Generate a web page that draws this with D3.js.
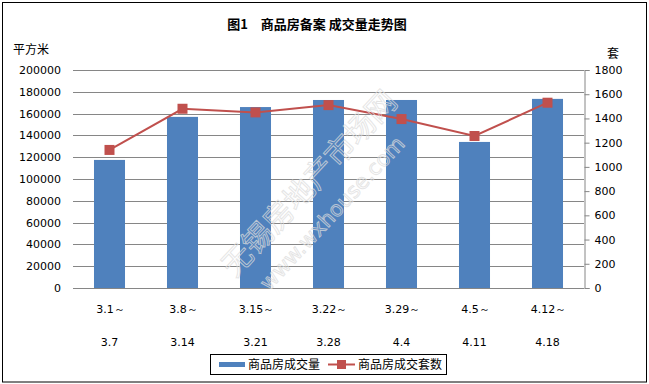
<!DOCTYPE html>
<html>
<head>
<meta charset="utf-8">
<script src="https://cdn.jsdelivr.net/npm/d3@7"></script>
<style>
  html, body { margin: 0; padding: 0; background: #fff; }
  svg { display: block; }
  .num { font-family: "DejaVu Sans", sans-serif; font-size: 11px; fill: #000; }
  .cjk { font-family: "Noto Sans CJK SC", sans-serif; font-size: 12px; fill: #000; }
</style>
</head>
<body>
<div id="chart"></div>
<script>
// 数据
const weeksStart = ['3.1～', '3.8～', '3.15～', '3.22～', '3.29～', '4.5～', '4.12～'];
const weeksEnd = ['3.7', '3.14', '3.21', '3.28', '4.4', '4.11', '4.18'];
const areaValues = [117500, 157000, 166000, 172500, 172500, 134000, 173500];   // 平方米
const unitValues = [1140, 1480, 1450, 1510, 1395, 1255, 1530];                  // 套
const leftTicks = [0, 20000, 40000, 60000, 80000, 100000, 120000, 140000, 160000, 180000, 200000];
const rightTicks = [0, 200, 400, 600, 800, 1000, 1200, 1400, 1600, 1800];

const width = 649, height = 384;
const margin = { left: 73, right: 65, top: 70, bottom: 96 };
const x0 = margin.left, x1 = width - margin.right;
const y0 = height - margin.bottom, y1 = margin.top;

const svg = d3.select('#chart').append('svg')
    .attr('width', width)
    .attr('height', height);

// 外框
svg.append('rect')
    .attr('x', 2.5).attr('y', 2.5)
    .attr('width', width - 5).attr('height', height - 4.5)
    .attr('fill', '#fff')
    .attr('stroke', '#000')
    .attr('stroke-width', 1);

// 比例尺
const x = d3.scaleBand().domain(d3.range(weeksStart.length)).range([x0, x1]).paddingInner(0.575).paddingOuter(0.2875);
const yL = d3.scaleLinear().domain([0, 200000]).range([y0, y1]);
const yR = d3.scaleLinear().domain([0, 1800]).range([y0, y1]);

// 网格线
svg.append('g')
    .selectAll('line')
    .data(leftTicks.slice(1))
    .join('line')
    .attr('x1', x0).attr('x2', x1)
    .attr('y1', d => Math.round(yL(d)) + 0.5)
    .attr('y2', d => Math.round(yL(d)) + 0.5)
    .attr('stroke', '#868686');

// 柱子
svg.append('g')
    .selectAll('rect')
    .data(areaValues)
    .join('rect')
    .attr('x', (d, i) => x(i))
    .attr('width', x.bandwidth())
    .attr('y', d => yL(d))
    .attr('height', d => y0 - yL(d))
    .attr('fill', '#4F81BD');

// 底部轴线
svg.append('line')
    .attr('x1', x0).attr('x2', x1)
    .attr('y1', Math.round(y0) + 0.5).attr('y2', Math.round(y0) + 0.5)
    .attr('stroke', '#868686');

// 左轴标签
const leftAxis = d3.axisLeft(yL).tickValues(leftTicks).tickSize(0).tickPadding(12).tickFormat(d3.format('d'));
const gl = svg.append('g').attr('transform', `translate(${x0},0)`).call(leftAxis);
gl.select('.domain').remove();
gl.selectAll('text').attr('class', 'num').attr('fill', null).attr('font-family', null).attr('font-size', null);

// 右轴
const rightAxis = d3.axisRight(yR).tickValues(rightTicks).tickSize(5).tickPadding(5).tickFormat(d3.format('d'));
const gr = svg.append('g').attr('transform', `translate(${x1 + 0.5},0)`).call(rightAxis);
gr.select('.domain').attr('stroke', '#868686');
gr.selectAll('.tick line').attr('stroke', '#868686');
gr.selectAll('text').attr('class', 'num').attr('fill', null).attr('font-family', null).attr('font-size', null);

// X轴标签
const cx = i => x(i) + x.bandwidth() / 2;
svg.append('g').selectAll('text')
    .data(weeksStart)
    .join('text')
    .attr('class', 'num')
    .attr('x', (d, i) => cx(i) + 1)
    .attr('y', 313)
    .attr('text-anchor', 'middle')
    .text(d => d);
svg.append('g').selectAll('text')
    .data(weeksEnd)
    .join('text')
    .attr('class', 'num')
    .attr('x', (d, i) => cx(i))
    .attr('y', 346)
    .attr('text-anchor', 'middle')
    .text(d => d);

// 折线
const line = d3.line().x((d, i) => cx(i)).y(d => yR(d));
svg.append('path')
    .datum(unitValues)
    .attr('d', line)
    .attr('fill', 'none')
    .attr('stroke', '#C0504D')
    .attr('stroke-width', 2);
svg.append('g').selectAll('rect')
    .data(unitValues)
    .join('rect')
    .attr('x', (d, i) => cx(i) - 5)
    .attr('y', d => yR(d) - 5)
    .attr('width', 10).attr('height', 10)
    .attr('fill', '#C0504D');

// 水印
const wm = svg.append('g')
    .attr('fill', 'none')
    .attr('stroke', '#dcdcdc')
    .attr('stroke-opacity', 0.75)
    .attr('stroke-width', 1);
wm.append('text')
    .attr('transform', 'translate(311,185) rotate(-47)')
    .attr('text-anchor', 'middle')
    .attr('dominant-baseline', 'middle')
    .attr('font-family', 'Noto Sans CJK SC')
    .attr('font-size', 30)
    .text('无锡房地产市场网');
wm.append('text')
    .attr('transform', 'translate(333,214) rotate(-47)')
    .attr('text-anchor', 'middle')
    .attr('dominant-baseline', 'middle')
    .attr('font-family', 'DejaVu Sans')
    .attr('font-size', 21)
    .text('www.wxhouse.com');

// 标题
svg.append('text')
    .attr('x', 317).attr('y', 29)
    .attr('text-anchor', 'middle')
    .attr('font-family', 'Noto Sans CJK SC')
    .attr('font-weight', 'bold')
    .attr('font-size', 13)
    .text('图1　商品房备案 成交量走势图');

// 单位
svg.append('text').attr('class', 'cjk').attr('x', 13).attr('y', 54).text('平方米');
svg.append('text').attr('class', 'cjk').attr('x', 607).attr('y', 58).text('套');

// 图例
const lg = svg.append('g');
lg.append('rect')
    .attr('x', 210.5).attr('y', 354.5)
    .attr('width', 236).attr('height', 20)
    .attr('fill', '#fff')
    .attr('stroke', '#000');
lg.append('rect')
    .attr('x', 219).attr('y', 362)
    .attr('width', 26).attr('height', 5)
    .attr('fill', '#4F81BD');
lg.append('text').attr('class', 'cjk').attr('x', 248).attr('y', 369).text('商品房成交量');
lg.append('line')
    .attr('x1', 328).attr('x2', 355)
    .attr('y1', 364.5).attr('y2', 364.5)
    .attr('stroke', '#C0504D').attr('stroke-width', 2);
lg.append('rect')
    .attr('x', 337).attr('y', 360)
    .attr('width', 9).attr('height', 9)
    .attr('fill', '#C0504D');
lg.append('text').attr('class', 'cjk').attr('x', 358).attr('y', 369).text('商品房成交套数');
</script>
</body>
</html>
